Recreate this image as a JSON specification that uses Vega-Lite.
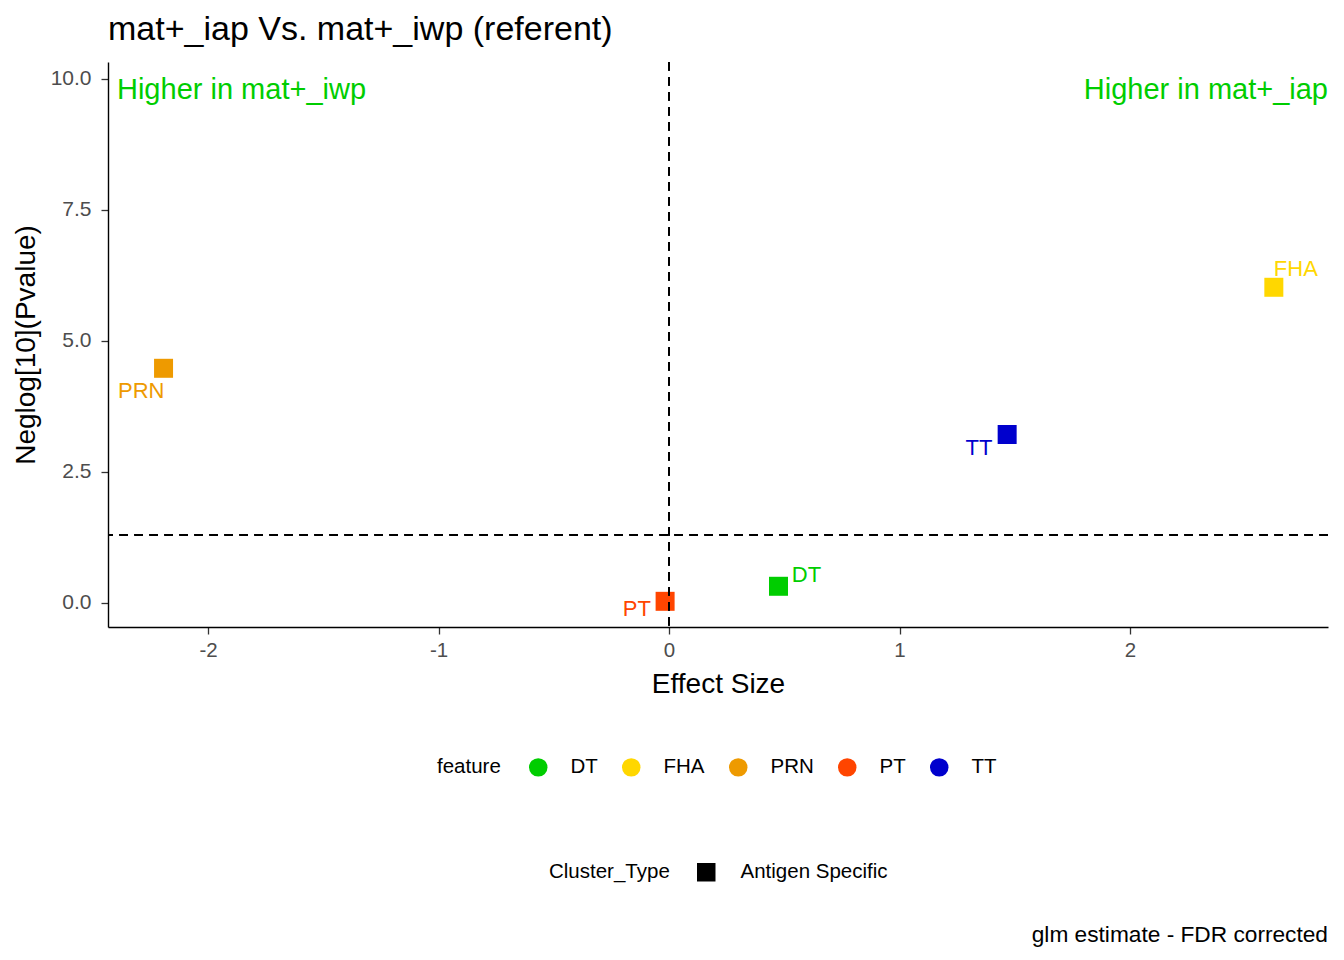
{
  "$schema": "https://vega.github.io/schema/vega-lite/v6.json",
  "width": 1220,
  "height": 565,
  "autosize": {"type": "none"},
  "padding": {"left": 108, "top": 62, "right": 16, "bottom": 333},
  "background": "white",
  "config": {
    "font": "Liberation Sans",
    "view": {"stroke": null},
    "axis": {"grid": false}
  },
  "title": {
    "text": "mat+_iap Vs. mat+_iwp (referent)",
    "anchor": "start",
    "frame": "group",
    "fontSize": 34,
    "fontWeight": "normal",
    "color": "black",
    "offset": 14
  },
  "data": {
    "values": [
      {"feature": "DT", "effect": 0.475, "neglog": 0.319, "Cluster_Type": "Antigen Specific"},
      {"feature": "FHA", "effect": 2.624, "neglog": 6.025, "Cluster_Type": "Antigen Specific"},
      {"feature": "PRN", "effect": -2.193, "neglog": 4.479, "Cluster_Type": "Antigen Specific"},
      {"feature": "PT", "effect": -0.017, "neglog": 0.032, "Cluster_Type": "Antigen Specific"},
      {"feature": "TT", "effect": 1.467, "neglog": 3.216, "Cluster_Type": "Antigen Specific"}
    ]
  },
  "layer": [
    {
      "mark": {"type": "point", "filled": true, "size": 361, "opacity": 1},
      "encoding": {
        "x": {
          "field": "effect",
          "type": "quantitative",
          "scale": {"domain": [-2.434, 2.859], "nice": false, "zero": false},
          "axis": {
            "title": "Effect Size",
            "values": [-2, -1, 0, 1, 2],
            "labelExpr": "toString(datum.value)",
            "domainColor": "black",
            "domainWidth": 1.4,
            "tickColor": "#333333",
            "tickWidth": 1.3,
            "tickSize": 7,
            "labelColor": "#4D4D4D",
            "labelFontSize": 20.5,
            "labelPadding": 6,
            "titleFontSize": 28,
            "titleFontWeight": "normal",
            "titleColor": "black",
            "titlePadding": 10
          }
        },
        "y": {
          "field": "neglog",
          "type": "quantitative",
          "scale": {"domain": [-0.458, 10.324], "nice": false, "zero": false},
          "axis": {
            "title": "Neglog[10](Pvalue)",
            "values": [0, 2.5, 5, 7.5, 10],
            "format": ".1f",
            "domainColor": "black",
            "domainWidth": 1.4,
            "tickColor": "#333333",
            "tickWidth": 1.3,
            "tickSize": 7,
            "labelColor": "#4D4D4D",
            "labelFontSize": 21,
            "labelPadding": 10,
            "titleFontSize": 28,
            "titleFontWeight": "normal",
            "titleColor": "black",
            "titlePadding": 10
          }
        },
        "color": {
          "field": "feature",
          "type": "nominal",
          "scale": {
            "domain": ["DT", "FHA", "PRN", "PT", "TT"],
            "range": ["#00CD00", "#FFD700", "#EE9A00", "#FF4500", "#0000CD"]
          },
          "legend": {
            "title": "feature",
            "orient": "none",
            "legendX": 329,
            "legendY": 695,
            "direction": "horizontal",
            "titleOrient": "left",
            "titleAnchor": "middle",
            "titleBaseline": "middle",
            "titlePadding": 27,
            "titleFontSize": 20.5,
            "titleFontWeight": "normal",
            "titleColor": "black",
            "labelFontSize": 20.5,
            "labelColor": "black",
            "labelOffset": 22,
            "columnPadding": 23,
            "symbolType": "circle",
            "symbolSize": 342,
            "symbolStrokeWidth": 0,
            "symbolOpacity": 1
          }
        },
        "shape": {
          "field": "Cluster_Type",
          "type": "nominal",
          "scale": {"domain": ["Antigen Specific"], "range": ["square"]},
          "legend": {
            "title": "Cluster_Type",
            "orient": "none",
            "legendX": 441,
            "legendY": 800,
            "direction": "horizontal",
            "titleOrient": "left",
            "titleAnchor": "middle",
            "titleBaseline": "middle",
            "titlePadding": 26,
            "titleFontSize": 20.5,
            "titleFontWeight": "normal",
            "titleColor": "black",
            "labelFontSize": 20.5,
            "labelColor": "black",
            "labelOffset": 24,
            "symbolSize": 342,
            "symbolFillColor": "black",
            "symbolStrokeColor": "black",
            "symbolStrokeWidth": 0,
            "symbolOpacity": 1
          }
        }
      }
    },
    {
      "mark": {"type": "rule", "strokeDash": [8.5, 6.5], "strokeWidth": 1.7, "color": "black"},
      "encoding": {"x": {"datum": 0}}
    },
    {
      "mark": {"type": "rule", "strokeDash": [8.5, 6.5], "strokeWidth": 1.7, "color": "black"},
      "encoding": {"y": {"datum": 1.30103}}
    },
    {
      "transform": [{"filter": "datum.feature == 'DT'"}],
      "mark": {"type": "text", "fontSize": 22, "baseline": "middle", "align": "center", "dx": 28, "dy": -11},
      "encoding": {
        "x": {"field": "effect", "type": "quantitative"},
        "y": {"field": "neglog", "type": "quantitative"},
        "text": {"field": "feature"},
        "color": {"field": "feature", "type": "nominal"}
      }
    },
    {
      "transform": [{"filter": "datum.feature == 'FHA'"}],
      "mark": {"type": "text", "fontSize": 22, "baseline": "middle", "align": "center", "dx": 22, "dy": -18.5},
      "encoding": {
        "x": {"field": "effect", "type": "quantitative"},
        "y": {"field": "neglog", "type": "quantitative"},
        "text": {"field": "feature"},
        "color": {"field": "feature", "type": "nominal"}
      }
    },
    {
      "transform": [{"filter": "datum.feature == 'PRN'"}],
      "mark": {"type": "text", "fontSize": 22, "baseline": "middle", "align": "center", "dx": -22.3, "dy": 22.4},
      "encoding": {
        "x": {"field": "effect", "type": "quantitative"},
        "y": {"field": "neglog", "type": "quantitative"},
        "text": {"field": "feature"},
        "color": {"field": "feature", "type": "nominal"}
      }
    },
    {
      "transform": [{"filter": "datum.feature == 'PT'"}],
      "mark": {"type": "text", "fontSize": 22, "baseline": "middle", "align": "center", "dx": -28.3, "dy": 8},
      "encoding": {
        "x": {"field": "effect", "type": "quantitative"},
        "y": {"field": "neglog", "type": "quantitative"},
        "text": {"field": "feature"},
        "color": {"field": "feature", "type": "nominal"}
      }
    },
    {
      "transform": [{"filter": "datum.feature == 'TT'"}],
      "mark": {"type": "text", "fontSize": 22, "baseline": "middle", "align": "center", "dx": -28.2, "dy": 14},
      "encoding": {
        "x": {"field": "effect", "type": "quantitative"},
        "y": {"field": "neglog", "type": "quantitative"},
        "text": {"field": "feature"},
        "color": {"field": "feature", "type": "nominal"}
      }
    },
    {
      "data": {"values": [{"note": "Higher in mat+_iwp"}]},
      "mark": {"type": "text", "fontSize": 29, "align": "left", "baseline": "alphabetic", "color": "#00CD00"},
      "encoding": {
        "text": {"field": "note", "type": "nominal"},
        "x": {"datum": -2.395},
        "y": {"datum": 9.618}
      }
    },
    {
      "data": {"values": [{"note": "Higher in mat+_iap"}]},
      "mark": {"type": "text", "fontSize": 29, "align": "right", "baseline": "alphabetic", "color": "#00CD00"},
      "encoding": {
        "text": {"field": "note", "type": "nominal"},
        "x": {"datum": 2.859},
        "y": {"datum": 9.618}
      }
    },
    {
      "data": {"values": [{"note": "glm estimate - FDR corrected"}]},
      "mark": {"type": "text", "fontSize": 22.7, "align": "right", "baseline": "alphabetic", "color": "black"},
      "encoding": {
        "text": {"field": "note", "type": "nominal"},
        "x": {"datum": 2.859},
        "y": {"datum": -6.464}
      }
    }
  ]
}
